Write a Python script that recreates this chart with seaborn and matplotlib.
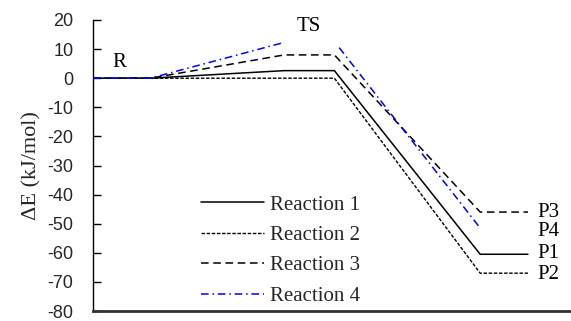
import matplotlib
matplotlib.use("Agg")
import matplotlib.pyplot as plt
import seaborn as sns
import pandas as pd
import numpy as np
from matplotlib.lines import Line2D

# Stage positions: R start, R end, TS start, TS end, P start, P end
stage_x = [0.0, 1.2, 4.0, 5.05, 8.1, 9.1]
reaction1 = [0.0, 0.0, 2.6, 2.6, -60.5, -60.5]
reaction2 = [0.0, 0.0, 0.0, 0.0, -67.0, -67.0]
reaction3 = [0.0, 0.0, 8.0, 8.0, -46.0, -46.0]
# Reaction 4 has a gap at the TS and no product plateau
reaction4_x = [0.0, 1.2, 4.0, 5.15, 8.1]
reaction4 = [0.0, 0.0, 12.3, 10.5, -51.5]
reaction4_seg = [0, 0, 0, 1, 1]

series_names = ["Reaction 1", "Reaction 2", "Reaction 3", "Reaction 4"]
yticks = [20, 10, 0, -10, -20, -30, -40, -50, -60, -70, -80]
point_labels = ["R", "TS", "P3", "P4", "P1", "P2"]
point_label_x = [0.56, 4.52, 9.3, 9.3, 9.3, 9.3]
point_label_y = [5.5, 17.7, -46.0, -52.8, -60.4, -67.6]

sns.set_theme(style="white")
plt.rcParams["font.family"] = ["Liberation Serif", "DejaVu Serif"]

fig = plt.figure(figsize=(5.71, 3.21), dpi=100)
ax = fig.add_axes([93 / 571, 10 / 321, 1 - 93 / 571, 291 / 321])

rows = []
for name, vals in zip(series_names[:3], [reaction1, reaction2, reaction3]):
    for x, y in zip(stage_x, vals):
        rows.append({"x": x, "y": y, "series": name, "seg": 0})
for x, y, s in zip(reaction4_x, reaction4, reaction4_seg):
    rows.append({"x": x, "y": y, "series": "Reaction 4", "seg": s})
df = pd.DataFrame(rows)

styles = {
    "Reaction 1": dict(color="black", linestyle="-", linewidth=1.1),
    "Reaction 2": dict(color="black", linestyle=(0, (2.5, 1.2)), linewidth=1.0),
    "Reaction 3": dict(color="black", linestyle=(0, (5, 3)), linewidth=1.1),
    "Reaction 4": dict(color="#0000ff", linestyle=(0, (5, 2.5, 1, 2.5)), linewidth=1.1),
}

for name in series_names:
    sub = df[df["series"] == name]
    for seg, part in sub.groupby("seg"):
        sns.lineplot(data=part, x="x", y="y", ax=ax, sort=False, estimator=None,
                     legend=False, **styles[name])

handles = [Line2D([], [], **styles[n]) for n in series_names]
fig.legend(handles, series_names, loc="upper left",
           bbox_to_anchor=(201 / 571, 1 - 195 / 321), frameon=False,
           fontsize=15, handlelength=3.0, handletextpad=0.3,
           labelspacing=0.52, borderpad=0, borderaxespad=0)

ax.set_xlim(0, 10)
ax.set_ylim(-80, 20)
ax.set_yticks(yticks)
ax.set_yticklabels([str(t) for t in yticks], family=["Liberation Sans", "DejaVu Sans"], fontsize=13)
ax.set_xticks([])
ax.tick_params(axis="y", direction="in", length=6, width=1, color="black", pad=14, left=True)
ax.set_xlabel("")
ax.set_ylabel("ΔE (kJ/mol)", fontsize=16, labelpad=4)

for s in ["top", "right"]:
    ax.spines[s].set_visible(False)
ax.spines["left"].set_color("black")
ax.spines["left"].set_linewidth(1.0)
ax.spines["bottom"].set_color("#333333")
ax.spines["bottom"].set_linewidth(2.0)

for t, x, y in zip(point_labels, point_label_x, point_label_y):
    ha = "left" if t.startswith("P") else "center"
    ax.text(x, y, t, fontsize=15, ha=ha, va="center", color="black")

fig.savefig("out.png", dpi=100)
